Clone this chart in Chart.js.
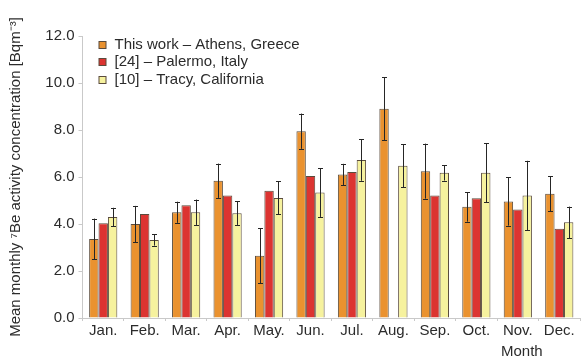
<!DOCTYPE html>
<html>
<head>
<meta charset="utf-8">
<script src="https://cdn.jsdelivr.net/npm/chart.js@4.4.1/dist/chart.umd.min.js"></script>
<style>
  html, body { margin: 0; padding: 0; background: #fff; }
  #wrap { width: 585px; height: 362px; }
</style>
</head>
<body>
<div id="wrap"><canvas id="c" width="585" height="362"></canvas></div>
<script>
// Monthly mean 7Be activity concentration (Bq m^-3)
const months = ['Jan.', 'Feb.', 'Mar.', 'Apr.', 'May.', 'Jun.', 'Jul.', 'Aug.', 'Sep.', 'Oct.', 'Nov.', 'Dec.'];
const athens    = [3.36, 4.00, 4.50, 5.84, 2.65, 7.95, 6.11, 8.90, 6.25, 4.73, 4.96, 5.29];
const athensErr = [0.87, 0.77, 0.45, 0.73, 1.17, 0.75, 0.45, 1.34, 1.17, 0.63, 1.03, 0.75];
const palermo   = [4.03, 4.43, 4.80, 5.21, 5.41, 6.04, 6.21, null, 5.21, 5.10, 4.62, 3.80];
const tracy     = [4.30, 3.32, 4.50, 4.46, 5.11, 5.34, 6.72, 6.48, 6.18, 6.18, 5.21, 4.07];
const tracyErr  = [0.39, 0.24, 0.54, 0.50, 0.70, 1.04, 0.88, 0.92, 0.33, 1.25, 1.48, 0.67];
const seriesNames = ['This work \u2013 Athens, Greece', '[24] \u2013 Palermo, Italy', '[10] \u2013 Tracy, California'];
const yTicks = [0, 2, 4, 6, 8, 10, 12];

const FONT = "'Liberation Sans', Arial, Helvetica, sans-serif";
const TEXT = '#2b2b2b';
const AXIS = '#c9c9c9';
const EDGE = '#5a4b3c';

// Symmetric error bars with caps, drawn through the y scale
const errorBars = {
  id: 'errorBars',
  afterDatasetsDraw(chart) {
    const ctx = chart.ctx;
    const y = chart.scales.y;
    chart.data.datasets.forEach((ds, di) => {
      if (!ds.errors) return;
      const meta = chart.getDatasetMeta(di);
      meta.data.forEach((bar, i) => {
        const v = ds.data[i], e = ds.errors[i];
        if (v == null || e == null) return;
        const top = y.getPixelForValue(v + e);
        const bot = y.getPixelForValue(v - e);
        const x = Math.round(bar.x) + 0.5;
        ctx.save();
        ctx.strokeStyle = '#262626';
        ctx.lineWidth = 1;
        ctx.beginPath();
        ctx.moveTo(x, top); ctx.lineTo(x, bot);
        ctx.moveTo(x - 2.5, Math.round(top) + 0.5); ctx.lineTo(x + 2.5, Math.round(top) + 0.5);
        ctx.moveTo(x - 2.5, Math.round(bot) + 0.5); ctx.lineTo(x + 2.5, Math.round(bot) + 0.5);
        ctx.stroke();
        ctx.restore();
      });
    });
  }
};

// Legend inside the plot area and the "Month" axis caption
const annotations = {
  id: 'annotations',
  afterDraw(chart) {
    const ctx = chart.ctx;
    const area = chart.chartArea;
    ctx.save();
    ctx.font = '15px ' + FONT;
    ctx.textBaseline = 'middle';
    chart.data.datasets.forEach((ds, i) => {
      const cy = area.top + 8.5 + i * 17.5;
      const bx = area.left + 16.5;
      ctx.fillStyle = ds.backgroundColor;
      ctx.fillRect(bx, Math.round(cy - 4) + 0.5, 7, 7);
      ctx.strokeStyle = EDGE;
      ctx.lineWidth = 1;
      ctx.strokeRect(bx, Math.round(cy - 4) + 0.5, 7, 7);
      ctx.fillStyle = TEXT;
      ctx.textAlign = 'left';
      ctx.fillText(ds.label, area.left + 32, cy);
    });
    const x = chart.scales.x;
    ctx.textAlign = 'center';
    ctx.fillText('Month', x.getPixelForValue(10) + 4, 352);
    ctx.restore();
  }
};

const common = { borderColor: EDGE, borderWidth: 1, borderSkipped: 'bottom', barPercentage: 1.0, categoryPercentage: 0.68 };

new Chart(document.getElementById('c'), {
  type: 'bar',
  data: {
    labels: months,
    datasets: [
      Object.assign({ label: seriesNames[0], data: athens, errors: athensErr, backgroundColor: '#EA922F' }, common),
      Object.assign({ label: seriesNames[1], data: palermo, backgroundColor: '#DC3431' }, common),
      Object.assign({ label: seriesNames[2], data: tracy, errors: tracyErr, backgroundColor: '#F6F29E' }, common)
    ]
  },
  options: {
    responsive: false,
    animation: false,
    devicePixelRatio: 1,
    layout: { padding: { top: 36, right: 5, bottom: 21, left: 0 } },
    plugins: { legend: { display: false }, tooltip: { enabled: false } },
    scales: {
      x: {
        offset: true,
        border: { color: AXIS, width: 1 },
        grid: { offset: true, drawOnChartArea: false, drawTicks: true, tickLength: 3, color: AXIS },
        ticks: { color: TEXT, font: { family: FONT, size: 15 }, padding: 1, maxRotation: 0, autoSkip: false }
      },
      y: {
        min: 0, max: 12,
        afterBuildTicks(scale) { scale.ticks = yTicks.map(v => ({ value: v })); },
        afterFit(scale) { scale.width = 82.5; },
        border: { color: AXIS, width: 1 },
        grid: { drawOnChartArea: false, drawTicks: true, tickLength: 4, color: AXIS },
        ticks: { color: TEXT, font: { family: FONT, size: 15 }, padding: 4, callback: v => Number(v).toFixed(1) },
        title: {
          display: true,
          text: 'Mean monthly \u2077Be activity concentration [Bqm\u207B\u00B3]',
          color: TEXT,
          font: { family: FONT, size: 15 },
          padding: { top: 7, bottom: 0 }
        }
      }
    }
  },
  plugins: [errorBars, annotations]
});
</script>
</body>
</html>
